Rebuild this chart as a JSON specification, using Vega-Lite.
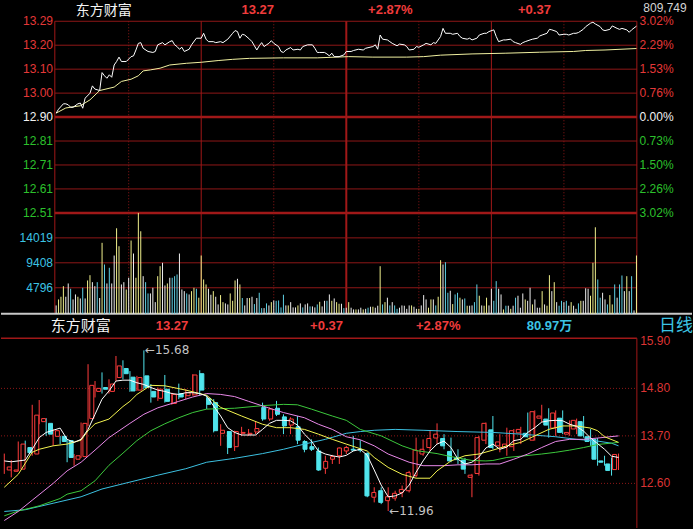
{
"$schema": "https://vega.github.io/schema/vega-lite/v6.json",
"width": 693, "height": 529,
"autosize": {"type": "fit", "contains": "padding"},
"padding": 0,
"background": "#000000",
"config": {"view": {"stroke": null}, "axis": {"disable": true}, "legend": {"disable": true}, "text": {"font": "Liberation Sans"}},
"resolve": {"scale": {"x": "independent", "y": "independent", "color": "independent"}},
"datasets": {
"hgrid": [{"p":13.29,"k":"thin"},{"p":13.1925,"k":"thin"},{"p":13.095,"k":"thin"},{"p":12.9975,"k":"thin"},{"p":12.90,"k":"thick"},{"p":12.8025,"k":"thin"},{"p":12.705,"k":"thin"},{"p":12.6075,"k":"thin"},{"p":12.51,"k":"thick"}],
"vgrid": [{"m":-0.54,"k":"solid"},{"m":30,"k":"dot"},{"m":60,"k":"solid"},{"m":90,"k":"dot"},{"m":120,"k":"thick"},{"m":150,"k":"dot"},{"m":180,"k":"solid"},{"m":210,"k":"dot"},{"m":240.16,"k":"solid"}],
"vlab": [{"v":14019,"l":"14019"},{"v":9408,"l":"9408"},{"v":4796,"l":"4796"}],
"sep": [{"v":0}],
"ilab": [{"p":13.29,"l":"13.29","r":"3.02%","g":"u"},{"p":13.1925,"l":"13.20","r":"2.29%","g":"u"},{"p":13.095,"l":"13.10","r":"1.53%","g":"u"},{"p":12.9975,"l":"13.00","r":"0.76%","g":"u"},{"p":12.90,"l":"12.90","r":"0.00%","g":"n"},{"p":12.8025,"l":"12.81","r":"0.73%","g":"d"},{"p":12.705,"l":"12.71","r":"1.50%","g":"d"},{"p":12.6075,"l":"12.61","r":"2.26%","g":"d"},{"p":12.51,"l":"12.51","r":"3.02%","g":"d"}],
"px": [{"m":0,"p":12.916},{"m":1,"p":12.932},{"m":3,"p":12.954},{"m":4,"p":12.954},{"m":5,"p":12.95},{"m":6,"p":12.94},{"m":7,"p":12.94},{"m":9,"p":12.954},{"m":10,"p":12.957},{"m":11,"p":12.936},{"m":12,"p":12.977},{"m":14,"p":12.997},{"m":15,"p":13.027},{"m":16,"p":13.014},{"m":18,"p":13.008},{"m":19,"p":13.081},{"m":20,"p":13.068},{"m":21,"p":13.058},{"m":22,"p":13.072},{"m":23,"p":13.062},{"m":24,"p":13.112},{"m":25,"p":13.126},{"m":26,"p":13.144},{"m":27,"p":13.126},{"m":29,"p":13.126},{"m":31,"p":13.146},{"m":32,"p":13.149},{"m":33,"p":13.173},{"m":34,"p":13.2},{"m":35,"p":13.203},{"m":36,"p":13.18},{"m":38,"p":13.167},{"m":40,"p":13.163},{"m":41,"p":13.167},{"m":42,"p":13.194},{"m":44,"p":13.203},{"m":45,"p":13.194},{"m":47,"p":13.207},{"m":48,"p":13.211},{"m":49,"p":13.194},{"m":50,"p":13.187},{"m":51,"p":13.176},{"m":52,"p":13.184},{"m":53,"p":13.167},{"m":55,"p":13.176},{"m":56,"p":13.194},{"m":58,"p":13.221},{"m":60,"p":13.221},{"m":61,"p":13.241},{"m":62,"p":13.217},{"m":63,"p":13.207},{"m":65,"p":13.207},{"m":66,"p":13.203},{"m":68,"p":13.207},{"m":69,"p":13.203},{"m":71,"p":13.217},{"m":73,"p":13.241},{"m":74,"p":13.252},{"m":75,"p":13.248},{"m":76,"p":13.221},{"m":77,"p":13.237},{"m":78,"p":13.234},{"m":80,"p":13.217},{"m":81,"p":13.207},{"m":82,"p":13.19},{"m":83,"p":13.173},{"m":84,"p":13.19},{"m":85,"p":13.203},{"m":86,"p":13.187},{"m":87,"p":13.194},{"m":88,"p":13.2},{"m":89,"p":13.211},{"m":90,"p":13.2},{"m":92,"p":13.187},{"m":93,"p":13.167},{"m":94,"p":13.163},{"m":95,"p":13.173},{"m":97,"p":13.183},{"m":98,"p":13.173},{"m":100,"p":13.176},{"m":101,"p":13.173},{"m":102,"p":13.187},{"m":104,"p":13.194},{"m":106,"p":13.194},{"m":107,"p":13.18},{"m":108,"p":13.163},{"m":109,"p":13.163},{"m":111,"p":13.163},{"m":112,"p":13.157},{"m":113,"p":13.149},{"m":114,"p":13.16},{"m":115,"p":13.146},{"m":117,"p":13.146},{"m":119,"p":13.153},{"m":120,"p":13.167},{"m":122,"p":13.167},{"m":123,"p":13.171},{"m":125,"p":13.176},{"m":127,"p":13.173},{"m":128,"p":13.18},{"m":131,"p":13.187},{"m":132,"p":13.194},{"m":133,"p":13.176},{"m":134,"p":13.234},{"m":135,"p":13.217},{"m":137,"p":13.214},{"m":138,"p":13.207},{"m":139,"p":13.2},{"m":141,"p":13.19},{"m":142,"p":13.197},{"m":144,"p":13.194},{"m":145,"p":13.187},{"m":146,"p":13.173},{"m":148,"p":13.176},{"m":149,"p":13.187},{"m":150,"p":13.184},{"m":152,"p":13.194},{"m":153,"p":13.2},{"m":155,"p":13.194},{"m":156,"p":13.203},{"m":157,"p":13.2},{"m":159,"p":13.228},{"m":160,"p":13.261},{"m":161,"p":13.241},{"m":163,"p":13.241},{"m":164,"p":13.237},{"m":166,"p":13.241},{"m":167,"p":13.228},{"m":168,"p":13.221},{"m":170,"p":13.217},{"m":171,"p":13.221},{"m":172,"p":13.214},{"m":174,"p":13.221},{"m":175,"p":13.234},{"m":177,"p":13.241},{"m":178,"p":13.241},{"m":179,"p":13.248},{"m":181,"p":13.255},{"m":182,"p":13.228},{"m":183,"p":13.207},{"m":185,"p":13.214},{"m":186,"p":13.214},{"m":188,"p":13.217},{"m":189,"p":13.207},{"m":190,"p":13.203},{"m":192,"p":13.196},{"m":193,"p":13.203},{"m":194,"p":13.207},{"m":196,"p":13.214},{"m":197,"p":13.217},{"m":199,"p":13.221},{"m":200,"p":13.23},{"m":201,"p":13.234},{"m":203,"p":13.241},{"m":204,"p":13.257},{"m":205,"p":13.255},{"m":207,"p":13.248},{"m":208,"p":13.234},{"m":210,"p":13.237},{"m":211,"p":13.237},{"m":212,"p":13.234},{"m":214,"p":13.241},{"m":215,"p":13.241},{"m":216,"p":13.244},{"m":218,"p":13.257},{"m":219,"p":13.268},{"m":221,"p":13.282},{"m":222,"p":13.286},{"m":223,"p":13.279},{"m":225,"p":13.268},{"m":226,"p":13.255},{"m":227,"p":13.252},{"m":229,"p":13.257},{"m":230,"p":13.271},{"m":232,"p":13.261},{"m":233,"p":13.257},{"m":234,"p":13.261},{"m":236,"p":13.255},{"m":237,"p":13.245},{"m":238,"p":13.255},{"m":240,"p":13.27}],
"avg": [{"m":0,"a":12.916},{"m":4,"a":12.937},{"m":10,"a":12.946},{"m":14,"a":12.97},{"m":18,"a":13.008},{"m":24,"a":13.022},{"m":27,"a":13.045},{"m":31,"a":13.054},{"m":34,"a":13.068},{"m":36,"a":13.088},{"m":39,"a":13.092},{"m":43,"a":13.099},{"m":47,"a":13.112},{"m":54,"a":13.119},{"m":60,"a":13.123},{"m":67,"a":13.13},{"m":73,"a":13.135},{"m":80,"a":13.139},{"m":94,"a":13.141},{"m":108,"a":13.141},{"m":121,"a":13.146},{"m":131,"a":13.144},{"m":145,"a":13.144},{"m":152,"a":13.146},{"m":159,"a":13.152},{"m":172,"a":13.157},{"m":186,"a":13.16},{"m":200,"a":13.164},{"m":214,"a":13.167},{"m":219,"a":13.171},{"m":227,"a":13.173},{"m":240,"a":13.179}],
"vol": [{"m":0,"v":1531,"c":"w"},{"m":1,"v":2638,"c":"y"},{"m":2,"v":3137,"c":"y"},{"m":3,"v":5092,"c":"y"},{"m":4,"v":3137,"c":"w"},{"m":5,"v":5590,"c":"w"},{"m":6,"v":4613,"c":"c"},{"m":7,"v":2638,"c":"w"},{"m":8,"v":3561,"c":"w"},{"m":9,"v":3137,"c":"y"},{"m":10,"v":2822,"c":"w"},{"m":11,"v":4797,"c":"c"},{"m":12,"v":2822,"c":"w"},{"m":13,"v":6144,"c":"y"},{"m":14,"v":7122,"c":"y"},{"m":15,"v":5830,"c":"w"},{"m":16,"v":5092,"c":"w"},{"m":17,"v":5830,"c":"c"},{"m":18,"v":2900,"c":"w"},{"m":19,"v":13100,"c":"y"},{"m":20,"v":9096,"c":"c"},{"m":21,"v":5590,"c":"w"},{"m":22,"v":8487,"c":"c"},{"m":23,"v":5590,"c":"w"},{"m":24,"v":10756,"c":"w"},{"m":25,"v":15793,"c":"y"},{"m":26,"v":12472,"c":"y"},{"m":27,"v":5406,"c":"w"},{"m":28,"v":5830,"c":"w"},{"m":29,"v":4483,"c":"y"},{"m":30,"v":6642,"c":"w"},{"m":31,"v":13524,"c":"y"},{"m":32,"v":11125,"c":"w"},{"m":33,"v":6642,"c":"y"},{"m":34,"v":18635,"c":"y"},{"m":35,"v":15240,"c":"y"},{"m":36,"v":6937,"c":"w"},{"m":37,"v":5830,"c":"c"},{"m":38,"v":3745,"c":"c"},{"m":39,"v":3745,"c":"w"},{"m":40,"v":4797,"c":"w"},{"m":41,"v":2140,"c":"w"},{"m":42,"v":6937,"c":"y"},{"m":43,"v":8782,"c":"y"},{"m":44,"v":9410,"c":"w"},{"m":45,"v":5221,"c":"w"},{"m":46,"v":5590,"c":"y"},{"m":47,"v":6642,"c":"w"},{"m":48,"v":6642,"c":"c"},{"m":49,"v":6937,"c":"c"},{"m":50,"v":7251,"c":"c"},{"m":51,"v":11125,"c":"w"},{"m":52,"v":4483,"c":"w"},{"m":53,"v":4170,"c":"w"},{"m":54,"v":3745,"c":"c"},{"m":55,"v":3561,"c":"w"},{"m":56,"v":4170,"c":"y"},{"m":57,"v":4797,"c":"y"},{"m":58,"v":4613,"c":"c"},{"m":59,"v":2960,"c":"y"},{"m":60,"v":10756,"c":"y"},{"m":61,"v":6328,"c":"y"},{"m":62,"v":5406,"c":"y"},{"m":63,"v":4613,"c":"w"},{"m":64,"v":3505,"c":"w"},{"m":65,"v":4170,"c":"y"},{"m":66,"v":3137,"c":"w"},{"m":67,"v":1716,"c":"w"},{"m":68,"v":3444,"c":"y"},{"m":69,"v":2140,"c":"y"},{"m":70,"v":1906,"c":"w"},{"m":71,"v":1716,"c":"w"},{"m":72,"v":3745,"c":"y"},{"m":73,"v":2386,"c":"y"},{"m":74,"v":6144,"c":"y"},{"m":75,"v":6451,"c":"w"},{"m":76,"v":5406,"c":"y"},{"m":77,"v":2900,"c":"c"},{"m":78,"v":1531,"c":"w"},{"m":79,"v":2900,"c":"w"},{"m":80,"v":2900,"c":"y"},{"m":81,"v":3137,"c":"w"},{"m":82,"v":1777,"c":"c"},{"m":83,"v":2900,"c":"w"},{"m":84,"v":3868,"c":"c"},{"m":85,"v":1033,"c":"c"},{"m":86,"v":1033,"c":"w"},{"m":87,"v":1906,"c":"c"},{"m":88,"v":1531,"c":"w"},{"m":89,"v":2140,"c":"y"},{"m":90,"v":2448,"c":"w"},{"m":91,"v":2386,"c":"c"},{"m":92,"v":2448,"c":"c"},{"m":93,"v":1164,"c":"c"},{"m":94,"v":3505,"c":"c"},{"m":95,"v":1531,"c":"w"},{"m":96,"v":1531,"c":"y"},{"m":97,"v":2140,"c":"w"},{"m":98,"v":1164,"c":"w"},{"m":99,"v":1164,"c":"w"},{"m":100,"v":1531,"c":"y"},{"m":101,"v":1906,"c":"w"},{"m":102,"v":1164,"c":"c"},{"m":103,"v":1716,"c":"w"},{"m":104,"v":1906,"c":"w"},{"m":105,"v":1348,"c":"c"},{"m":106,"v":1348,"c":"w"},{"m":107,"v":1164,"c":"w"},{"m":108,"v":1716,"c":"c"},{"m":109,"v":2200,"c":"y"},{"m":110,"v":1348,"c":"w"},{"m":111,"v":2386,"c":"w"},{"m":112,"v":2386,"c":"c"},{"m":113,"v":3561,"c":"w"},{"m":114,"v":2386,"c":"y"},{"m":115,"v":2822,"c":"w"},{"m":116,"v":2140,"c":"y"},{"m":117,"v":1838,"c":"y"},{"m":118,"v":1838,"c":"w"},{"m":119,"v":1033,"c":"c"},{"m":120,"v":1102,"c":"w"},{"m":121,"v":2140,"c":"y"},{"m":122,"v":1107,"c":"w"},{"m":123,"v":793,"c":"w"},{"m":124,"v":793,"c":"y"},{"m":125,"v":793,"c":"w"},{"m":126,"v":1107,"c":"w"},{"m":127,"v":793,"c":"y"},{"m":128,"v":900,"c":"w"},{"m":129,"v":1107,"c":"c"},{"m":130,"v":1290,"c":"w"},{"m":131,"v":1290,"c":"y"},{"m":132,"v":1107,"c":"w"},{"m":133,"v":1476,"c":"w"},{"m":134,"v":8782,"c":"y"},{"m":135,"v":1716,"c":"c"},{"m":136,"v":2140,"c":"y"},{"m":137,"v":2960,"c":"w"},{"m":138,"v":1531,"c":"c"},{"m":139,"v":2140,"c":"w"},{"m":140,"v":1531,"c":"c"},{"m":141,"v":900,"c":"c"},{"m":142,"v":1107,"c":"w"},{"m":143,"v":1531,"c":"w"},{"m":144,"v":1476,"c":"w"},{"m":145,"v":900,"c":"w"},{"m":146,"v":1531,"c":"w"},{"m":147,"v":1531,"c":"y"},{"m":148,"v":1290,"c":"w"},{"m":149,"v":900,"c":"w"},{"m":150,"v":900,"c":"y"},{"m":151,"v":1531,"c":"w"},{"m":152,"v":3444,"c":"w"},{"m":153,"v":2638,"c":"w"},{"m":154,"v":1107,"c":"y"},{"m":155,"v":2638,"c":"y"},{"m":156,"v":2638,"c":"w"},{"m":157,"v":1531,"c":"c"},{"m":158,"v":3137,"c":"y"},{"m":159,"v":9890,"c":"y"},{"m":160,"v":9096,"c":"w"},{"m":161,"v":9520,"c":"c"},{"m":162,"v":3868,"c":"c"},{"m":163,"v":4243,"c":"w"},{"m":164,"v":1777,"c":"y"},{"m":165,"v":3561,"c":"c"},{"m":166,"v":3868,"c":"c"},{"m":167,"v":2960,"c":"y"},{"m":168,"v":2638,"c":"w"},{"m":169,"v":2822,"c":"c"},{"m":170,"v":1476,"c":"y"},{"m":171,"v":1476,"c":"w"},{"m":172,"v":1531,"c":"w"},{"m":173,"v":2140,"c":"c"},{"m":174,"v":5406,"c":"c"},{"m":175,"v":3320,"c":"y"},{"m":176,"v":1531,"c":"w"},{"m":177,"v":1476,"c":"y"},{"m":178,"v":2960,"c":"y"},{"m":179,"v":1531,"c":"w"},{"m":180,"v":4613,"c":"w"},{"m":181,"v":2386,"c":"c"},{"m":182,"v":6020,"c":"c"},{"m":183,"v":4613,"c":"w"},{"m":184,"v":3561,"c":"w"},{"m":185,"v":793,"c":"y"},{"m":186,"v":1476,"c":"c"},{"m":187,"v":1476,"c":"w"},{"m":188,"v":900,"c":"y"},{"m":189,"v":1476,"c":"w"},{"m":190,"v":2960,"c":"c"},{"m":191,"v":3320,"c":"w"},{"m":192,"v":1107,"c":"w"},{"m":193,"v":3745,"c":"w"},{"m":194,"v":2638,"c":"y"},{"m":195,"v":2386,"c":"w"},{"m":196,"v":4797,"c":"w"},{"m":197,"v":1716,"c":"y"},{"m":198,"v":2638,"c":"w"},{"m":199,"v":1107,"c":"w"},{"m":200,"v":1107,"c":"w"},{"m":201,"v":4170,"c":"y"},{"m":202,"v":1716,"c":"w"},{"m":203,"v":1476,"c":"y"},{"m":204,"v":7122,"c":"y"},{"m":205,"v":4170,"c":"w"},{"m":206,"v":5830,"c":"y"},{"m":207,"v":2140,"c":"w"},{"m":208,"v":1476,"c":"c"},{"m":209,"v":2386,"c":"c"},{"m":210,"v":2140,"c":"w"},{"m":211,"v":2386,"c":"c"},{"m":212,"v":1476,"c":"w"},{"m":213,"v":2140,"c":"y"},{"m":214,"v":1476,"c":"w"},{"m":215,"v":900,"c":"w"},{"m":216,"v":1906,"c":"c"},{"m":217,"v":2386,"c":"y"},{"m":218,"v":2386,"c":"w"},{"m":219,"v":4700,"c":"w"},{"m":220,"v":4613,"c":"w"},{"m":221,"v":3320,"c":"y"},{"m":222,"v":9410,"c":"y"},{"m":223,"v":15978,"c":"y"},{"m":224,"v":6328,"c":"c"},{"m":225,"v":2960,"c":"c"},{"m":226,"v":3868,"c":"w"},{"m":227,"v":2638,"c":"w"},{"m":228,"v":1716,"c":"c"},{"m":229,"v":3444,"c":"y"},{"m":230,"v":1716,"c":"y"},{"m":231,"v":5406,"c":"c"},{"m":232,"v":2960,"c":"w"},{"m":233,"v":5406,"c":"c"},{"m":234,"v":7060,"c":"c"},{"m":235,"v":4170,"c":"w"},{"m":236,"v":6937,"c":"y"},{"m":237,"v":4170,"c":"w"},{"m":238,"v":6937,"c":"c"},{"m":239,"v":609,"c":"w"},{"m":240,"v":10756,"c":"y"}],
"candles": [{"i":1,"o":12.91,"h":13.29,"l":12.82,"c":12.98},{"i":2,"o":12.88,"h":13.14,"l":12.74,"c":12.91},{"i":3,"o":12.93,"h":13.57,"l":12.89,"c":13.51},{"i":4,"o":13.43,"h":13.59,"l":13.2,"c":13.31},{"i":5,"o":13.28,"h":14.42,"l":13.24,"c":14.18},{"i":6,"o":14.03,"h":14.53,"l":13.97,"c":14.1},{"i":7,"o":13.99,"h":14.11,"l":13.7,"c":13.74},{"i":8,"o":13.69,"h":13.86,"l":13.47,"c":13.82},{"i":9,"o":13.69,"h":13.7,"l":13.51,"c":13.57},{"i":10,"o":13.59,"h":13.62,"l":13.09,"c":13.2},{"i":11,"o":13.16,"h":13.28,"l":13.01,"c":13.24},{"i":12,"o":13.22,"h":14.01,"l":13.19,"c":13.99},{"i":13,"o":14.1,"h":15.36,"l":13.93,"c":14.87},{"i":14,"o":14.73,"h":14.97,"l":14.59,"c":14.8},{"i":15,"o":14.82,"h":15.17,"l":14.68,"c":14.78},{"i":16,"o":14.73,"h":15.01,"l":14.68,"c":14.9},{"i":17,"o":15.05,"h":15.55,"l":14.97,"c":15.32},{"i":18,"o":15.26,"h":15.45,"l":15.01,"c":15.14},{"i":19,"o":15.06,"h":15.2,"l":14.72,"c":14.74},{"i":20,"o":14.76,"h":15.09,"l":14.74,"c":15.05},{"i":21,"o":15.09,"h":15.68,"l":14.78,"c":14.82},{"i":22,"o":14.73,"h":14.9,"l":14.47,"c":14.6},{"i":23,"o":14.57,"h":14.82,"l":14.51,"c":14.78},{"i":24,"o":14.78,"h":15.11,"l":14.47,"c":14.5},{"i":25,"o":14.45,"h":14.7,"l":14.42,"c":14.66},{"i":26,"o":14.68,"h":14.91,"l":14.55,"c":14.6},{"i":27,"o":14.63,"h":14.78,"l":14.55,"c":14.7},{"i":28,"o":14.65,"h":15.13,"l":14.63,"c":15.11},{"i":29,"o":15.14,"h":15.22,"l":14.63,"c":14.76},{"i":30,"o":14.57,"h":14.63,"l":14.32,"c":14.43},{"i":31,"o":14.47,"h":14.55,"l":13.78,"c":13.82},{"i":32,"o":13.76,"h":13.97,"l":13.47,"c":13.83},{"i":33,"o":13.8,"h":13.81,"l":13.28,"c":13.43},{"i":34,"o":13.45,"h":13.82,"l":13.35,"c":13.8},{"i":35,"o":13.76,"h":13.91,"l":13.7,"c":13.78},{"i":36,"o":13.74,"h":13.86,"l":13.7,"c":13.76},{"i":37,"o":13.79,"h":14.03,"l":13.74,"c":13.87},{"i":38,"o":14.36,"h":14.47,"l":14.05,"c":14.09},{"i":39,"o":14.09,"h":14.36,"l":14.05,"c":14.32},{"i":40,"o":14.34,"h":14.51,"l":14.16,"c":14.2},{"i":41,"o":14.14,"h":14.2,"l":13.74,"c":13.93},{"i":42,"o":13.95,"h":14.13,"l":13.74,"c":14.09},{"i":43,"o":13.91,"h":14.16,"l":13.51,"c":13.6},{"i":44,"o":13.57,"h":13.6,"l":13.32,"c":13.39},{"i":45,"o":13.45,"h":13.62,"l":13.35,"c":13.39},{"i":46,"o":13.35,"h":13.43,"l":12.89,"c":12.91},{"i":47,"o":12.95,"h":13.24,"l":12.82,"c":13.11},{"i":48,"o":13.16,"h":13.26,"l":13.05,"c":13.22},{"i":49,"o":13.24,"h":13.43,"l":13.05,"c":13.42},{"i":50,"o":13.35,"h":13.47,"l":13.28,"c":13.43},{"i":51,"o":13.39,"h":13.7,"l":13.35,"c":13.37},{"i":52,"o":13.39,"h":13.6,"l":13.32,"c":13.37},{"i":53,"o":13.29,"h":13.32,"l":12.28,"c":12.31},{"i":54,"o":12.28,"h":12.51,"l":12.16,"c":12.39},{"i":55,"o":12.43,"h":12.51,"l":12.12,"c":12.16},{"i":56,"o":12.2,"h":12.51,"l":11.96,"c":12.29},{"i":57,"o":12.26,"h":12.43,"l":12.2,"c":12.37},{"i":58,"o":12.39,"h":12.55,"l":12.28,"c":12.46},{"i":59,"o":12.43,"h":12.89,"l":12.39,"c":12.85},{"i":60,"o":12.78,"h":13.66,"l":12.74,"c":13.37},{"i":61,"o":13.28,"h":13.62,"l":13.24,"c":13.39},{"i":62,"o":13.43,"h":13.82,"l":13.35,"c":13.64},{"i":63,"o":13.65,"h":13.99,"l":13.51,"c":13.74},{"i":64,"o":13.64,"h":13.74,"l":13.39,"c":13.47},{"i":65,"o":13.34,"h":13.66,"l":13.09,"c":13.12},{"i":66,"o":13.19,"h":13.39,"l":13.05,"c":13.15},{"i":67,"o":13.14,"h":13.19,"l":12.82,"c":12.93},{"i":68,"o":12.74,"h":12.82,"l":12.28,"c":12.79},{"i":69,"o":12.83,"h":13.7,"l":12.78,"c":13.66},{"i":70,"o":13.6,"h":14.01,"l":13.51,"c":13.99},{"i":71,"o":13.84,"h":14.16,"l":13.39,"c":13.43},{"i":72,"o":13.47,"h":13.74,"l":13.32,"c":13.56},{"i":73,"o":13.43,"h":13.89,"l":13.24,"c":13.51},{"i":74,"o":13.45,"h":13.86,"l":13.35,"c":13.82},{"i":75,"o":13.77,"h":13.91,"l":13.51,"c":13.85},{"i":76,"o":13.76,"h":14.24,"l":13.66,"c":13.68},{"i":77,"o":13.6,"h":14.29,"l":13.59,"c":14.26},{"i":78,"o":14.11,"h":14.42,"l":14.01,"c":14.16},{"i":79,"o":14.09,"h":14.34,"l":13.66,"c":13.95},{"i":80,"o":13.88,"h":14.29,"l":13.7,"c":14.23},{"i":81,"o":14.11,"h":14.29,"l":13.74,"c":13.78},{"i":82,"o":13.74,"h":14.06,"l":13.7,"c":13.78},{"i":83,"o":13.86,"h":14.1,"l":13.74,"c":14.06},{"i":84,"o":14.03,"h":14.16,"l":13.66,"c":13.7},{"i":85,"o":13.68,"h":13.86,"l":13.47,"c":13.57},{"i":86,"o":13.62,"h":13.65,"l":13.01,"c":13.16},{"i":87,"o":13.12,"h":13.24,"l":13.01,"c":13.09},{"i":88,"o":13.05,"h":13.2,"l":12.78,"c":12.9},{"i":89,"o":12.92,"h":13.29,"l":12.91,"c":13.27}],
"ma5": [{"i":1,"v":13.12},{"i":2,"v":13.1},{"i":3,"v":13.12},{"i":4,"v":13.14},{"i":5,"v":13.39},{"i":6,"v":13.66},{"i":7,"v":13.78},{"i":8,"v":13.83},{"i":9,"v":13.88},{"i":10,"v":13.62},{"i":11,"v":13.55},{"i":12,"v":13.62},{"i":13,"v":13.85},{"i":14,"v":14.2},{"i":15,"v":14.55},{"i":16,"v":14.74},{"i":17,"v":14.97},{"i":18,"v":14.99},{"i":19,"v":14.99},{"i":20,"v":14.93},{"i":21,"v":14.89},{"i":22,"v":14.82},{"i":23,"v":14.76},{"i":24,"v":14.73},{"i":25,"v":14.68},{"i":26,"v":14.66},{"i":27,"v":14.7},{"i":28,"v":14.7},{"i":29,"v":14.68},{"i":30,"v":14.62},{"i":31,"v":14.39},{"i":32,"v":14.16},{"i":33,"v":13.89},{"i":34,"v":13.78},{"i":35,"v":13.72},{"i":36,"v":13.72},{"i":37,"v":13.72},{"i":38,"v":13.85},{"i":39,"v":13.99},{"i":40,"v":14.06},{"i":41,"v":14.06},{"i":42,"v":14.05},{"i":43,"v":13.95},{"i":44,"v":13.74},{"i":45,"v":13.58},{"i":46,"v":13.35},{"i":47,"v":13.28},{"i":48,"v":13.24},{"i":49,"v":13.21},{"i":50,"v":13.25},{"i":51,"v":13.35},{"i":52,"v":13.39},{"i":53,"v":13.25},{"i":54,"v":12.91},{"i":55,"v":12.56},{"i":56,"v":12.29},{"i":57,"v":12.31},{"i":58,"v":12.38},{"i":59,"v":12.56},{"i":60,"v":12.86},{"i":61,"v":13.12},{"i":62,"v":13.35},{"i":63,"v":13.51},{"i":64,"v":13.58},{"i":65,"v":13.43},{"i":66,"v":13.16},{"i":67,"v":13.05},{"i":68,"v":13.09},{"i":69,"v":13.21},{"i":70,"v":13.42},{"i":71,"v":13.51},{"i":72,"v":13.39},{"i":73,"v":13.44},{"i":74,"v":13.59},{"i":75,"v":13.62},{"i":76,"v":13.78},{"i":77,"v":13.89},{"i":78,"v":14.02},{"i":79,"v":14.05},{"i":80,"v":14.06},{"i":81,"v":14.05},{"i":82,"v":13.97},{"i":83,"v":13.92},{"i":84,"v":13.81},{"i":85,"v":13.65},{"i":86,"v":13.52},{"i":87,"v":13.39},{"i":88,"v":13.23},{"i":89,"v":13.2}],
"ma10": [{"i":1,"v":12.51},{"i":3,"v":12.81},{"i":5,"v":13.32},{"i":6,"v":13.39},{"i":8,"v":13.47},{"i":10,"v":13.51},{"i":12,"v":13.6},{"i":13,"v":13.82},{"i":14,"v":13.98},{"i":16,"v":14.09},{"i":18,"v":14.38},{"i":19,"v":14.5},{"i":20,"v":14.66},{"i":22,"v":14.87},{"i":24,"v":14.86},{"i":27,"v":14.76},{"i":30,"v":14.64},{"i":32,"v":14.36},{"i":35,"v":14.16},{"i":38,"v":13.97},{"i":40,"v":13.89},{"i":42,"v":13.89},{"i":44,"v":13.85},{"i":46,"v":13.74},{"i":48,"v":13.62},{"i":50,"v":13.51},{"i":53,"v":13.35},{"i":54,"v":13.2},{"i":56,"v":12.97},{"i":58,"v":12.81},{"i":60,"v":12.72},{"i":62,"v":12.72},{"i":63,"v":12.89},{"i":65,"v":13.12},{"i":67,"v":13.24},{"i":69,"v":13.28},{"i":71,"v":13.37},{"i":73,"v":13.47},{"i":75,"v":13.55},{"i":77,"v":13.7},{"i":79,"v":13.85},{"i":81,"v":13.93},{"i":83,"v":13.93},{"i":85,"v":13.88},{"i":86,"v":13.82},{"i":87,"v":13.68},{"i":89,"v":13.55}],
"ma20": [{"i":1,"v":11.74},{"i":3,"v":11.95},{"i":5,"v":12.21},{"i":8,"v":12.6},{"i":10,"v":12.89},{"i":12,"v":13.09},{"i":14,"v":13.37},{"i":16,"v":13.66},{"i":19,"v":13.99},{"i":21,"v":14.2},{"i":23,"v":14.35},{"i":26,"v":14.5},{"i":28,"v":14.6},{"i":30,"v":14.68},{"i":32,"v":14.66},{"i":34,"v":14.61},{"i":36,"v":14.5},{"i":39,"v":14.34},{"i":41,"v":14.24},{"i":44,"v":14.12},{"i":46,"v":13.97},{"i":48,"v":13.85},{"i":50,"v":13.68},{"i":52,"v":13.61},{"i":54,"v":13.47},{"i":56,"v":13.28},{"i":59,"v":13.09},{"i":61,"v":13.01},{"i":64,"v":13.01},{"i":66,"v":13.03},{"i":68,"v":13.03},{"i":70,"v":13.05},{"i":72,"v":13.05},{"i":74,"v":13.16},{"i":76,"v":13.28},{"i":78,"v":13.43},{"i":80,"v":13.57},{"i":82,"v":13.62},{"i":84,"v":13.62},{"i":86,"v":13.65},{"i":89,"v":13.7}],
"ma30": [{"i":1,"v":11.85},{"i":3,"v":11.96},{"i":6,"v":12.08},{"i":9,"v":12.25},{"i":10,"v":12.35},{"i":12,"v":12.43},{"i":14,"v":12.66},{"i":16,"v":13.02},{"i":18,"v":13.3},{"i":20,"v":13.59},{"i":22,"v":13.82},{"i":24,"v":13.98},{"i":26,"v":14.12},{"i":28,"v":14.24},{"i":30,"v":14.32},{"i":34,"v":14.34},{"i":38,"v":14.4},{"i":41,"v":14.43},{"i":43,"v":14.42},{"i":45,"v":14.32},{"i":48,"v":14.16},{"i":50,"v":14.06},{"i":52,"v":13.85},{"i":55,"v":13.7},{"i":58,"v":13.47},{"i":60,"v":13.36},{"i":63,"v":13.29},{"i":65,"v":13.22},{"i":68,"v":13.13},{"i":70,"v":13.12},{"i":71,"v":13.13},{"i":73,"v":13.2},{"i":75,"v":13.23},{"i":78,"v":13.28},{"i":80,"v":13.32},{"i":82,"v":13.37},{"i":84,"v":13.43},{"i":86,"v":13.5},{"i":89,"v":13.55}],
"ma60": [{"i":1,"v":11.95},{"i":4,"v":11.99},{"i":8,"v":12.14},{"i":12,"v":12.29},{"i":15,"v":12.47},{"i":19,"v":12.63},{"i":23,"v":12.79},{"i":27,"v":12.94},{"i":30,"v":13.09},{"i":34,"v":13.18},{"i":38,"v":13.29},{"i":41,"v":13.39},{"i":44,"v":13.51},{"i":47,"v":13.62},{"i":50,"v":13.76},{"i":52,"v":13.8},{"i":54,"v":13.83},{"i":57,"v":13.85},{"i":61,"v":13.83},{"i":66,"v":13.8},{"i":71,"v":13.78},{"i":75,"v":13.74},{"i":80,"v":13.68},{"i":83,"v":13.62},{"i":86,"v":13.58},{"i":88,"v":13.53},{"i":89,"v":13.47}]
},
"layer": [
{"data":{"name":"hgrid"},"transform":[{"filter":"datum.k=='thin'"}],"mark":{"type":"rule","color":"#8e1717","strokeWidth":1},
 "encoding":{"y":{"field":"p","type":"quantitative","scale":{"domain":[11.2274,13.3765],"nice":false,"zero":false}},"x":{"datum":-0.54,"type":"quantitative","scale":{"domain":[-22.8,262.97],"nice":false,"zero":false}},"x2":{"datum":240.16}}},
{"data":{"name":"hgrid"},"transform":[{"filter":"datum.k=='thick'"}],"mark":{"type":"rule","color":"#a01818","strokeWidth":2.5},
 "encoding":{"y":{"field":"p","type":"quantitative","scale":{"domain":[11.2274,13.3765],"nice":false,"zero":false}},"x":{"datum":-0.54,"type":"quantitative","scale":{"domain":[-22.8,262.97],"nice":false,"zero":false}},"x2":{"datum":240.16}}},
{"data":{"name":"vgrid"},"transform":[{"filter":"datum.k=='dot'"}],"mark":{"type":"rule","color":"#8e1717","strokeWidth":1,"strokeDash":[1,2]},
 "encoding":{"x":{"field":"m","type":"quantitative","scale":{"domain":[-22.8,262.97],"nice":false,"zero":false}},"y":{"datum":13.29,"type":"quantitative","scale":{"domain":[11.2274,13.3765],"nice":false,"zero":false}},"y2":{"datum":12.0997}}},
{"data":{"name":"vgrid"},"transform":[{"filter":"datum.k=='solid'"}],"mark":{"type":"rule","color":"#a01818","strokeWidth":1},
 "encoding":{"x":{"field":"m","type":"quantitative","scale":{"domain":[-22.8,262.97],"nice":false,"zero":false}},"y":{"datum":13.29,"type":"quantitative","scale":{"domain":[11.2274,13.3765],"nice":false,"zero":false}},"y2":{"datum":12.0997}}},
{"data":{"name":"vgrid"},"transform":[{"filter":"datum.k=='thick'"}],"mark":{"type":"rule","color":"#a01818","strokeWidth":2},
 "encoding":{"x":{"field":"m","type":"quantitative","scale":{"domain":[-22.8,262.97],"nice":false,"zero":false}},"y":{"datum":13.29,"type":"quantitative","scale":{"domain":[11.2274,13.3765],"nice":false,"zero":false}},"y2":{"datum":12.0997}}},
{"data":{"name":"vlab"},"mark":{"type":"rule","color":"#8e1717","strokeWidth":1},
 "encoding":{"y":{"field":"v","type":"quantitative","scale":{"domain":[-39612,57988],"nice":false,"zero":false}},"x":{"datum":-0.54,"type":"quantitative","scale":{"domain":[-22.8,262.97],"nice":false,"zero":false}},"x2":{"datum":240.16}}},
{"data":{"name":"sep"},"mark":{"type":"rule","color":"#c8c8c8","strokeWidth":2},
 "encoding":{"y":{"field":"v","type":"quantitative","scale":{"domain":[-39612,57988],"nice":false,"zero":false}},"x":{"datum":-22.8,"type":"quantitative","scale":{"domain":[-22.8,262.97],"nice":false,"zero":false}},"x2":{"datum":262.97}}},
{"data":{"name":"vol"},"mark":{"type":"rule","strokeWidth":1},
 "encoding":{"x":{"field":"m","type":"quantitative","scale":{"domain":[-22.8,262.97],"nice":false,"zero":false}},"y":{"field":"v","type":"quantitative","scale":{"domain":[-39612,57988],"nice":false,"zero":false}},"y2":{"datum":0},
 "color":{"field":"c","type":"nominal","scale":{"domain":["w","y","c"],"range":["#eeeeee","#f0f08c","#5fd0e4"]},"legend":null}}},
{"data":{"name":"avg"},"mark":{"type":"line","color":"#f0f0a0","strokeWidth":1},
 "encoding":{"x":{"field":"m","type":"quantitative","scale":{"domain":[-22.8,262.97],"nice":false,"zero":false}},"y":{"field":"a","type":"quantitative","scale":{"domain":[11.2274,13.3765],"nice":false,"zero":false}}}},
{"data":{"name":"px"},"mark":{"type":"line","color":"#ffffff","strokeWidth":1},
 "encoding":{"x":{"field":"m","type":"quantitative","scale":{"domain":[-22.8,262.97],"nice":false,"zero":false}},"y":{"field":"p","type":"quantitative","scale":{"domain":[11.2274,13.3765],"nice":false,"zero":false}}}},
{"data":{"name":"ilab"},"mark":{"type":"text","align":"right","baseline":"middle","fontSize":12,"font":"Liberation Sans"},
 "encoding":{"x":{"datum":-1.3,"type":"quantitative","scale":{"domain":[-22.8,262.97],"nice":false,"zero":false}},"y":{"field":"p","type":"quantitative","scale":{"domain":[11.2274,13.3765],"nice":false,"zero":false}},"text":{"field":"l"},
 "color":{"field":"g","type":"nominal","scale":{"domain":["u","n","d"],"range":["#e43838","#f2f2f2","#2cc02c"]},"legend":null}}},
{"data":{"name":"ilab"},"mark":{"type":"text","align":"left","baseline":"middle","fontSize":12,"font":"Liberation Sans"},
 "encoding":{"x":{"datum":241.3,"type":"quantitative","scale":{"domain":[-22.8,262.97],"nice":false,"zero":false}},"y":{"field":"p","type":"quantitative","scale":{"domain":[11.2274,13.3765],"nice":false,"zero":false}},"text":{"field":"r"},
 "color":{"field":"g","type":"nominal","scale":{"domain":["u","n","d"],"range":["#e43838","#f2f2f2","#2cc02c"]},"legend":null}}},
{"data":{"name":"vlab"},"mark":{"type":"text","align":"right","baseline":"middle","fontSize":12,"font":"Liberation Sans","color":"#3cc4e4"},
 "encoding":{"x":{"datum":-1.3,"type":"quantitative","scale":{"domain":[-22.8,262.97],"nice":false,"zero":false}},"y":{"field":"v","type":"quantitative","scale":{"domain":[-39612,57988],"nice":false,"zero":false}},"text":{"field":"l"}}},
{"data":{"values":[{"t":"东方财富","m":19.7,"p":13.3318}]},"mark":{"type":"text","align":"center","baseline":"middle","fontSize":14,"font":"Noto Sans CJK SC","color":"#f4f4f4"},
 "encoding":{"x":{"field":"m","type":"quantitative","scale":{"domain":[-22.8,262.97],"nice":false,"zero":false}},"y":{"field":"p","type":"quantitative","scale":{"domain":[11.2274,13.3765],"nice":false,"zero":false}},"text":{"field":"t"}}},
{"data":{"values":[{"t":"13.27","m":83.4,"p":13.3359},{"t":"+2.87%","m":138.2,"p":13.3359},{"t":"+0.37","m":197.8,"p":13.3359}]},
 "mark":{"type":"text","align":"center","baseline":"middle","fontSize":13,"fontWeight":"bold","font":"Liberation Sans","color":"#f03c3c"},
 "encoding":{"x":{"field":"m","type":"quantitative","scale":{"domain":[-22.8,262.97],"nice":false,"zero":false}},"y":{"field":"p","type":"quantitative","scale":{"domain":[11.2274,13.3765],"nice":false,"zero":false}},"text":{"field":"t"}}},
{"data":{"values":[{"t":"809,749","m":251.8,"p":13.342}]},
 "mark":{"type":"text","align":"center","baseline":"middle","fontSize":12,"font":"Liberation Sans","color":"#d4d4d4"},
 "encoding":{"x":{"field":"m","type":"quantitative","scale":{"domain":[-22.8,262.97],"nice":false,"zero":false}},"y":{"field":"p","type":"quantitative","scale":{"domain":[11.2274,13.3765],"nice":false,"zero":false}},"text":{"field":"t"}}},
{"data":{"values":[{"p":15.96}]},"mark":{"type":"rule","color":"#a01818","strokeWidth":1.5},
 "encoding":{"y":{"field":"p","type":"quantitative","scale":{"domain":[11.567,23.793],"nice":false,"zero":false}},"x":{"datum":0.5286,"type":"quantitative","scale":{"domain":[0.5286,99.5286],"nice":false,"zero":false}},"x2":{"datum":91.63}}},
{"data":{"values":[{"i":91.63}]},"mark":{"type":"rule","color":"#a01818","strokeWidth":1},
 "encoding":{"x":{"field":"i","type":"quantitative","scale":{"domain":[0.5286,99.5286],"nice":false,"zero":false}},"y":{"datum":15.96,"type":"quantitative","scale":{"domain":[11.567,23.793],"nice":false,"zero":false}},"y2":{"datum":11.567}}},
{"data":{"values":[{"p":14.8},{"p":13.7},{"p":12.6}]},"mark":{"type":"rule","color":"#8e1717","strokeWidth":1,"strokeDash":[1,2]},
 "encoding":{"y":{"field":"p","type":"quantitative","scale":{"domain":[11.567,23.793],"nice":false,"zero":false}},"x":{"datum":0.5286,"type":"quantitative","scale":{"domain":[0.5286,99.5286],"nice":false,"zero":false}},"x2":{"datum":91.63}}},
{"data":{"name":"candles"},"transform":[{"filter":"datum.c>=datum.o"}],"mark":{"type":"rule","color":"#ff3c3c","strokeWidth":1},
 "encoding":{"x":{"field":"i","type":"quantitative","scale":{"domain":[0.5286,99.5286],"nice":false,"zero":false}},"y":{"field":"l","type":"quantitative","scale":{"domain":[11.567,23.793],"nice":false,"zero":false}},"y2":{"field":"h"}}},
{"data":{"name":"candles"},"transform":[{"filter":"datum.c<datum.o"}],"mark":{"type":"rule","color":"#50e4ec","strokeWidth":1},
 "encoding":{"x":{"field":"i","type":"quantitative","scale":{"domain":[0.5286,99.5286],"nice":false,"zero":false}},"y":{"field":"l","type":"quantitative","scale":{"domain":[11.567,23.793],"nice":false,"zero":false}},"y2":{"field":"h"}}},
{"data":{"name":"candles"},"transform":[{"filter":"datum.c>=datum.o"}],"mark":{"type":"bar","size":4,"fill":"#000000","stroke":"#ff3c3c","strokeWidth":1},
 "encoding":{"x":{"field":"i","type":"quantitative","scale":{"domain":[0.5286,99.5286],"nice":false,"zero":false}},"y":{"field":"o","type":"quantitative","scale":{"domain":[11.567,23.793],"nice":false,"zero":false}},"y2":{"field":"c"}}},
{"data":{"name":"candles"},"transform":[{"filter":"datum.c<datum.o"}],"mark":{"type":"bar","size":4,"fill":"#50e4ec","stroke":"#50e4ec","strokeWidth":1},
 "encoding":{"x":{"field":"i","type":"quantitative","scale":{"domain":[0.5286,99.5286],"nice":false,"zero":false}},"y":{"field":"o","type":"quantitative","scale":{"domain":[11.567,23.793],"nice":false,"zero":false}},"y2":{"field":"c"}}},
{"data":{"name":"ma60"},"mark":{"type":"line","color":"#3cc0e0","strokeWidth":1},
 "encoding":{"x":{"field":"i","type":"quantitative","scale":{"domain":[0.5286,99.5286],"nice":false,"zero":false}},"y":{"field":"v","type":"quantitative","scale":{"domain":[11.567,23.793],"nice":false,"zero":false}}}},
{"data":{"name":"ma30"},"mark":{"type":"line","color":"#3cc83c","strokeWidth":1},
 "encoding":{"x":{"field":"i","type":"quantitative","scale":{"domain":[0.5286,99.5286],"nice":false,"zero":false}},"y":{"field":"v","type":"quantitative","scale":{"domain":[11.567,23.793],"nice":false,"zero":false}}}},
{"data":{"name":"ma20"},"mark":{"type":"line","color":"#e888e8","strokeWidth":1},
 "encoding":{"x":{"field":"i","type":"quantitative","scale":{"domain":[0.5286,99.5286],"nice":false,"zero":false}},"y":{"field":"v","type":"quantitative","scale":{"domain":[11.567,23.793],"nice":false,"zero":false}}}},
{"data":{"name":"ma10"},"mark":{"type":"line","color":"#f4f450","strokeWidth":1},
 "encoding":{"x":{"field":"i","type":"quantitative","scale":{"domain":[0.5286,99.5286],"nice":false,"zero":false}},"y":{"field":"v","type":"quantitative","scale":{"domain":[11.567,23.793],"nice":false,"zero":false}}}},
{"data":{"name":"ma5"},"mark":{"type":"line","color":"#ffffff","strokeWidth":1},
 "encoding":{"x":{"field":"i","type":"quantitative","scale":{"domain":[0.5286,99.5286],"nice":false,"zero":false}},"y":{"field":"v","type":"quantitative","scale":{"domain":[11.567,23.793],"nice":false,"zero":false}}}},
{"data":{"values":[{"p":15.9,"l":"15.90"},{"p":14.8,"l":"14.80"},{"p":13.7,"l":"13.70"},{"p":12.6,"l":"12.60"}]},"mark":{"type":"text","align":"left","baseline":"middle","fontSize":12,"font":"Liberation Sans","color":"#dc3434"},
 "encoding":{"x":{"datum":92.1,"type":"quantitative","scale":{"domain":[0.5286,99.5286],"nice":false,"zero":false}},"y":{"field":"p","type":"quantitative","scale":{"domain":[11.567,23.793],"nice":false,"zero":false}},"text":{"field":"l"}}},
{"data":{"values":[{"t":"东方财富","i":11.96,"p":16.235,"k":"w","s":"n"},{"t":"日线","i":97.24,"p":16.235,"k":"c","s":"b"}]},"mark":{"type":"text","align":"center","baseline":"middle","font":"Noto Sans CJK SC"},
 "encoding":{"x":{"field":"i","type":"quantitative","scale":{"domain":[0.5286,99.5286],"nice":false,"zero":false}},"y":{"field":"p","type":"quantitative","scale":{"domain":[11.567,23.793],"nice":false,"zero":false}},"text":{"field":"t"},
 "color":{"field":"k","type":"nominal","scale":{"domain":["w","c"],"range":["#f4f4f4","#3cc4e4"]},"legend":null},
 "size":{"field":"s","type":"ordinal","scale":{"domain":["n","b"],"range":[15,17]},"legend":null}}},
{"data":{"values":[{"t":"13.27","i":25.03,"p":16.235,"k":"r"},{"t":"+0.37","i":47.17,"p":16.235,"k":"r"},{"t":"+2.87%","i":63.17,"p":16.235,"k":"r"},{"t":"80.97万","i":79.1,"p":16.235,"k":"c"}]},
 "mark":{"type":"text","align":"center","baseline":"middle","fontSize":13,"fontWeight":"bold","font":"Liberation Sans, Noto Sans CJK SC"},
 "encoding":{"x":{"field":"i","type":"quantitative","scale":{"domain":[0.5286,99.5286],"nice":false,"zero":false}},"y":{"field":"p","type":"quantitative","scale":{"domain":[11.567,23.793],"nice":false,"zero":false}},"text":{"field":"t"},
 "color":{"field":"k","type":"nominal","scale":{"domain":["r","c"],"range":["#f03c3c","#3cc4e4"]},"legend":null}}},
{"data":{"values":[{"t":"←15.68","i":21,"p":15.68},{"t":"←11.96","i":56,"p":11.96}]},"mark":{"type":"text","align":"left","baseline":"middle","fontSize":12,"font":"DejaVu Sans","color":"#c4c4c4","dx":1},
 "encoding":{"x":{"field":"i","type":"quantitative","scale":{"domain":[0.5286,99.5286],"nice":false,"zero":false}},"y":{"field":"p","type":"quantitative","scale":{"domain":[11.567,23.793],"nice":false,"zero":false}},"text":{"field":"t"}}}
]
}
